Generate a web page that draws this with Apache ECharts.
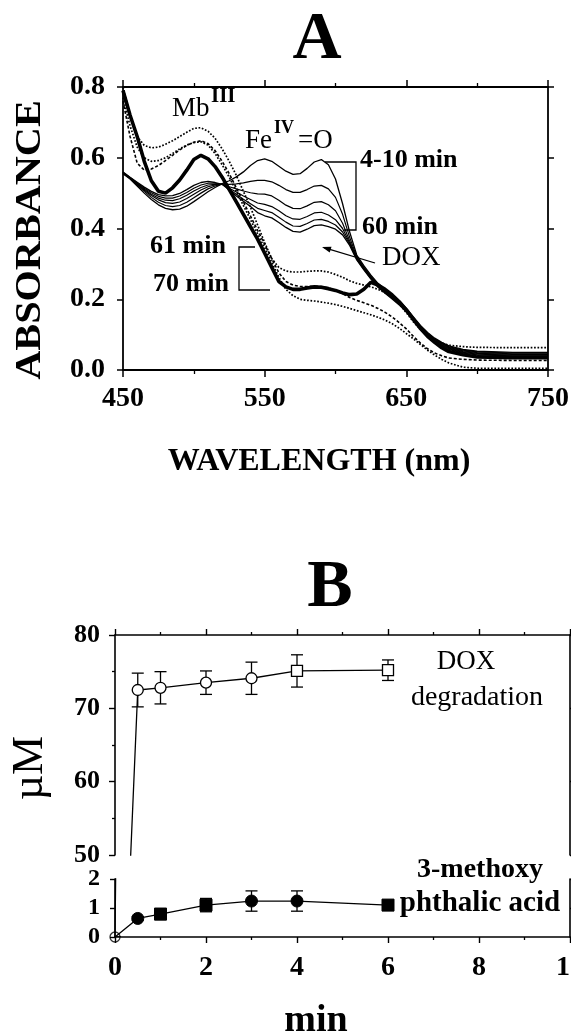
<!DOCTYPE html>
<html><head><meta charset="utf-8">
<script src="https://cdn.jsdelivr.net/npm/echarts@6/dist/echarts.min.js"></script>
<style>html,body{margin:0;padding:0;background:#fff}#c{width:571px;height:1036px}</style>
</head><body><div id="c"></div>
<script>
// ---------- Panel A data: absorbance spectra ----------
const wavelength = [450,455,460,465,470,475,480,485,490,495,500,505,510,515,520,
  525,530,535,540,545,550,555,560,565,570,575,580,585,590,595,600,605,610,
  615,620,625,630,635,640,645,650,655,660,665,670,675,680,690,700,725,750];

const ferryl_4to10min = [.555,.540,.520,.500,.482,.467,.457,.453,.455,.463,.476,.490,.504,.516,.527,
  .535,.546,.560,.578,.592,.597,.590,.576,.562,.553,.555,.570,.588,.595,.580,.540,.470,.390,
  .325,.295,.268,.245,.228,.212,.195,.175,.150,.126,.106,.090,.078,.068,.058,.053,.050,.050];
const ferryl_b = [.556,.541,.523,.505,.488,.474,.465,.462,.465,.474,.487,.500,.512,.520,.526,
  .525,.526,.529,.533,.536,.536,.532,.522,.510,.502,.502,.510,.520,.522,.512,.488,.440,.375,
  .320,.291,.265,.242,.225,.209,.192,.172,.148,.124,.104,.088,.076,.066,.056,.051,.048,.048];
const ferryl_c = [.557,.542,.525,.508,.493,.481,.473,.471,.475,.485,.497,.509,.518,.523,.525,
  .518,.512,.506,.501,.498,.497,.492,.480,.466,.457,.456,.464,.474,.476,.467,.450,.415,.365,
  .317,.289,.263,.240,.223,.207,.190,.170,.146,.122,.102,.086,.074,.064,.054,.049,.046,.046];
const ferryl_d = [.558,.543,.527,.511,.497,.486,.480,.479,.484,.494,.506,.516,.523,.525,.525,
  .514,.503,.492,.482,.472,.468,.462,.450,.436,.427,.426,.434,.444,.446,.438,.425,.400,.360,
  .315,.287,.261,.238,.221,.205,.188,.168,.144,.120,.100,.084,.072,.062,.052,.047,.044,.044];
const ferryl_e = [.559,.544,.529,.514,.501,.491,.486,.486,.492,.502,.514,.523,.528,.528,.525,
  .511,.497,.483,.470,.457,.451,.445,.432,.418,.407,.406,.414,.424,.426,.420,.410,.390,.356,
  .313,.285,.259,.236,.219,.203,.186,.166,.142,.118,.098,.082,.070,.060,.050,.045,.042,.042];
const ferryl_60min = [.560,.545,.531,.517,.505,.496,.492,.493,.499,.510,.522,.530,.533,.530,.525,
  .509,.492,.477,.462,.445,.436,.430,.417,.403,.392,.390,.398,.408,.410,.405,.398,.382,.352,
  .311,.283,.257,.234,.217,.201,.184,.164,.140,.116,.096,.080,.068,.058,.048,.043,.040,.040];

const late_61min = [.800,.720,.660,.635,.628,.630,.638,.648,.660,.672,.683,.685,.675,.655,.625,
  .590,.550,.505,.460,.410,.360,.315,.290,.280,.277,.277,.279,.280,.280,.277,.270,.262,.252,
  .245,.240,.235,.228,.218,.205,.186,.162,.136,.115,.098,.085,.076,.070,.066,.064,.063,.063];
const late_b = [.760,.660,.585,.565,.568,.578,.592,.607,.622,.635,.644,.648,.640,.620,.590,
  .555,.515,.475,.435,.395,.355,.315,.275,.250,.240,.236,.236,.237,.236,.232,.225,.216,.205,
  .197,.190,.183,.174,.163,.150,.134,.116,.095,.076,.060,.048,.040,.034,.030,.028,.027,.027];
const late_c = [.770,.690,.630,.600,.590,.592,.600,.612,.625,.636,.643,.645,.636,.612,.580,
  .545,.505,.465,.425,.385,.345,.305,.262,.228,.210,.200,.197,.195,.192,.189,.185,.180,.174,
  .168,.162,.156,.149,.141,.131,.118,.103,.088,.072,.056,.042,.030,.020,.008,.005,.005,.005];
const late_70min = [.790,.720,.660,.590,.535,.505,.500,.515,.537,.565,.595,.607,.597,.575,.545,
  .510,.475,.440,.405,.370,.330,.290,.250,.235,.228,.228,.232,.235,.234,.230,.225,.218,.213,
  .215,.228,.248,.240,.228,.212,.193,.170,.143,.117,.095,.078,.063,.052,.043,.037,.035,.035];

// ---------- Panel B data ----------
const timeMin = [0, 0.5, 1, 2, 3, 4, 6];
const doxDegraded = [0, 72.5, 72.8, 73.5, 74.1, 75.1, 75.2];
const doxErr = [0, 2.3, 2.2, 1.6, 2.2, 2.2, 1.4];
const methoxyAcid = [0, 0.64, 0.79, 1.10, 1.24, 1.24, 1.10];
const methoxyErr = [0, 0.06, 0.19, 0.23, 0.35, 0.35, 0.12];

// marker shapes (style, not data)
const doxMarker = ['circle','circle','circle','circle','circle','rect','rect'];
const methoxyMarker = ['none','circle','rect','rect','circle','circle','rect'];

const FONT = "'Liberation Serif','Times New Roman',serif";
const BLACK = '#000';

const chart = echarts.init(document.getElementById('c'), null, {renderer:'canvas', width:571, height:1036});

function pairs(xs, ys){ return xs.map((x,i)=>[x, ys[i]]); }

function spec(name, arr, style, z){
  return {type:'line', name, xAxisIndex:0, yAxisIndex:0, data:pairs(wavelength, arr),
    symbol:'none', showSymbol:false, silent:true, clip:true, z:z||2,
    lineStyle:Object.assign({color:BLACK, width:1.2}, style)};
}

function axisLine(w){ return {show:true, onZero:false, lineStyle:{color:BLACK, width:w||1.8}}; }
function ticks(len, w){ return {show:true, inside:false, length:len, lineStyle:{color:BLACK, width:w||1.5}}; }
function minor(len, n){ return {show:true, splitNumber:n, length:len, lineStyle:{color:BLACK, width:1.3}}; }
function lbl(size, margin, extra){
  return Object.assign({show:true, margin, color:BLACK, fontFamily:FONT, fontWeight:'bold', fontSize:size,
    showMinLabel:true, showMaxLabel:true}, extra||{});
}
const noLbl = {show:false};
const noSplit = {show:false};

function errRender(params, api){
  const x = api.value(0), lo = api.value(1), hi = api.value(2);
  const t = api.coord([x, hi]), b = api.coord([x, lo]);
  const w = 6, st = {stroke:BLACK, lineWidth:1.3};
  return {type:'group', children:[
    {type:'line', shape:{x1:t[0], y1:t[1], x2:b[0], y2:b[1]}, style:st},
    {type:'line', shape:{x1:t[0]-w, y1:t[1], x2:t[0]+w, y2:t[1]}, style:st},
    {type:'line', shape:{x1:b[0]-w, y1:b[1], x2:b[0]+w, y2:b[1]}, style:st}
  ]};
}

function txt(x, y, text, size, weight, align, rot, sx){
  return {type:'text', x, y, rotation:rot||0, scaleX:sx||1, silent:true, z:50,
    style:{text, font:`${weight} ${size}px ${FONT}`, fill:BLACK,
      textAlign:align||'left', textVerticalAlign:'middle', align:align||'left', verticalAlign:'middle'}};
}
function poly(points, w){
  return {type:'polyline', silent:true, z:50, shape:{points}, style:{stroke:BLACK, lineWidth:w||1.3, fill:null}};
}

const option = {
  animation:false,
  backgroundColor:'#fff',
  grid:[
    {left:123, top:87, width:425, height:283, outerBoundsMode:'none', containLabel:false},
    {left:115, top:635, width:455, height:220, outerBoundsMode:'none', containLabel:false},
    {left:115, top:879, width:455, height:58, outerBoundsMode:'none', containLabel:false}
  ],
  xAxis:[
    {gridIndex:0, type:'value', position:'bottom', min:450, max:750, interval:100,
      axisLine:axisLine(), axisTick:ticks(7), minorTick:minor(4,2), splitLine:noSplit, minorSplitLine:noSplit,
      axisLabel:lbl(28, 15)},
    {gridIndex:0, type:'value', position:'top', min:450, max:750, interval:100,
      axisLine:axisLine(), axisTick:ticks(7), minorTick:minor(4,2), splitLine:noSplit, axisLabel:noLbl},
    {gridIndex:1, type:'value', position:'top', min:0, max:10, interval:2,
      axisLine:axisLine(1.6), axisTick:ticks(6,1.4), minorTick:minor(3,2), splitLine:noSplit, axisLabel:noLbl},
    {gridIndex:2, type:'value', position:'bottom', min:0, max:10, interval:2,
      axisLine:axisLine(1.6), axisTick:ticks(6,1.4), minorTick:minor(3,2), splitLine:noSplit,
      axisLabel:lbl(28, 17)}
  ],
  yAxis:[
    {gridIndex:0, type:'value', position:'left', min:0, max:0.8, interval:0.2,
      axisLine:axisLine(), axisTick:ticks(6), splitLine:noSplit,
      axisLabel:lbl(28, 18, {formatter:v=>v.toFixed(1)})},
    {gridIndex:0, type:'value', position:'right', min:0, max:0.8, interval:0.2,
      axisLine:axisLine(), axisTick:ticks(6), splitLine:noSplit, axisLabel:noLbl},
    {gridIndex:1, type:'value', position:'left', min:50, max:80, interval:10,
      axisLine:axisLine(1.6), axisTick:ticks(6,1.4), minorTick:minor(3,2), splitLine:noSplit,
      axisLabel:lbl(26, 15)},
    {gridIndex:1, type:'value', position:'right', min:50, max:80, interval:10,
      axisLine:axisLine(1.6), axisTick:ticks(5,1.4), splitLine:noSplit, axisLabel:noLbl},
    {gridIndex:2, type:'value', position:'left', min:0, max:2, interval:1,
      axisLine:axisLine(1.6), axisTick:ticks(5,1.4), splitLine:noSplit,
      axisLabel:lbl(24, 15)},
    {gridIndex:2, type:'value', position:'right', min:0, max:2, interval:1,
      axisLine:axisLine(1.6), axisTick:ticks(4,1.4), splitLine:noSplit, axisLabel:noLbl}
  ],
  series:[
    spec('4-10 min', ferryl_4to10min, {width:1.3}),
    spec('ferryl b', ferryl_b, {width:1.2}),
    spec('ferryl c', ferryl_c, {width:1.2}),
    spec('ferryl d', ferryl_d, {width:1.2}),
    spec('ferryl e', ferryl_e, {width:1.2}),
    spec('60 min', ferryl_60min, {width:1.3}),
    spec('61 min', late_61min, {width:1.7, type:'dotted'}),
    spec('late b', late_b, {width:1.6, type:[3,2]}),
    spec('late c', late_c, {width:1.7, type:'dotted'}),
    spec('70 min', late_70min, {width:3.6}, 4),

    {type:'custom', name:'DOX error', xAxisIndex:2, yAxisIndex:2, clip:true, z:2, silent:true,
      renderItem:errRender,
      data:timeMin.map((t,i)=>[t, doxDegraded[i]-doxErr[i], doxDegraded[i]+doxErr[i]])},
    {type:'line', name:'DOX degradation', xAxisIndex:2, yAxisIndex:2, clip:true, z:3, silent:true,
      data:pairs(timeMin, doxDegraded),
      symbol:(v,p)=>doxMarker[p.dataIndex], symbolSize:11, showAllSymbol:true,
      itemStyle:{color:'#fff', borderColor:BLACK, borderWidth:1.3},
      lineStyle:{color:BLACK, width:1.3}},
    {type:'line', name:'DOX degradation (low)', xAxisIndex:3, yAxisIndex:4, clip:true, z:3, silent:true,
      data:pairs(timeMin, doxDegraded),
      symbol:'none', showSymbol:false,
      lineStyle:{color:BLACK, width:1.3}},
    {type:'scatter', name:'DOX start', xAxisIndex:3, yAxisIndex:4, clip:false, z:6, silent:true,
      data:pairs(timeMin.slice(0,1), doxDegraded.slice(0,1)),
      symbol:'circle', symbolSize:10,
      itemStyle:{color:'rgba(255,255,255,0)', borderColor:BLACK, borderWidth:1.3}},
    {type:'custom', name:'3-methoxy error', xAxisIndex:3, yAxisIndex:4, clip:true, z:4, silent:true,
      renderItem:errRender,
      data:timeMin.map((t,i)=>[t, methoxyAcid[i]-methoxyErr[i], methoxyAcid[i]+methoxyErr[i]])},
    {type:'line', name:'3-methoxy phthalic acid', xAxisIndex:3, yAxisIndex:4, clip:true, z:5, silent:true,
      data:pairs(timeMin, methoxyAcid),
      symbol:(v,p)=>methoxyMarker[p.dataIndex], symbolSize:12, showAllSymbol:true,
      itemStyle:{color:BLACK, borderColor:BLACK, borderWidth:1},
      lineStyle:{color:BLACK, width:1.3}}
  ],
  graphic:[
    txt(317, 40, 'A', 68, 'bold', 'center'),
    txt(330, 588, 'B', 68, 'bold', 'center'),
    txt(31, 240, 'ABSORBANCE', 35, 'bold', 'center', Math.PI/2, 1.15),
    txt(319, 462, 'WAVELENGTH (nm)', 32, 'bold', 'center'),
    txt(30, 768, 'µM', 44, 'normal', 'center', Math.PI/2),
    txt(316, 1021, 'min', 38, 'bold', 'center'),
    // panel A annotations
    txt(172, 109, 'Mb', 27, 'normal', 'left'),
    txt(211, 97, 'III', 21, 'bold', 'left'),
    txt(245, 141, 'Fe', 27, 'normal', 'left'),
    txt(274, 128, 'IV', 18, 'bold', 'left'),
    txt(298, 141, '=O', 27, 'normal', 'left'),
    txt(360, 160, '4-10 min', 26, 'bold', 'left'),
    txt(362, 227, '60 min', 26, 'bold', 'left'),
    txt(382, 258, 'DOX', 27, 'normal', 'left'),
    txt(150, 246, '61 min', 26, 'bold', 'left'),
    txt(153, 284, '70 min', 26, 'bold', 'left'),
    poly([[325,162],[356,162],[356,230],[344,230]]),
    poly([[255,247],[239,247],[239,290],[270,290]]),
    poly([[375,263],[324,247.6]], 1.3),
    {type:'polygon', silent:true, z:50, shape:{points:[[322,247],[331.5,246.7],[329.7,252.5]]}, style:{fill:BLACK}},
    // panel B annotations
    txt(466, 662, 'DOX', 27, 'normal', 'center'),
    txt(477, 698, 'degradation', 28, 'normal', 'center'),
    txt(480, 870, '3-methoxy', 28, 'bold', 'center'),
    txt(480, 904, 'phthalic acid', 29, 'bold', 'center')
  ]
};
chart.setOption(option);
</script>
</body></html>
